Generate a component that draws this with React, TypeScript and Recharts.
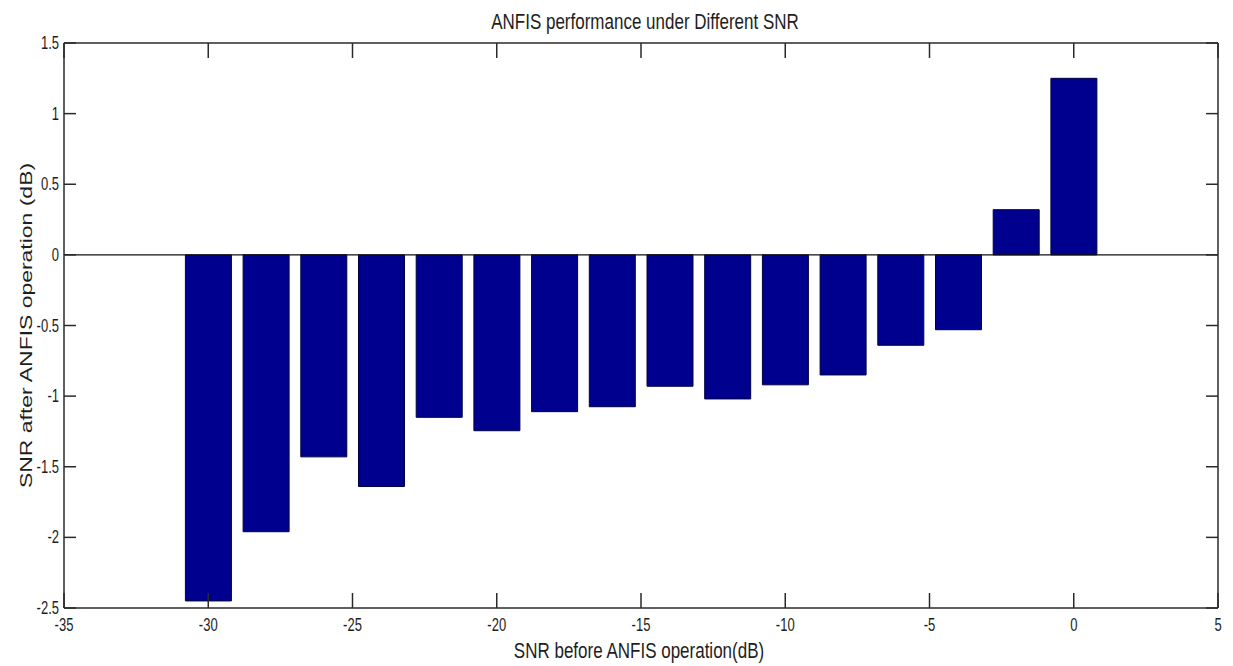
import React from 'react';
import { BarChart, Bar, XAxis, YAxis, ReferenceLine, Label } from 'recharts';

// SNR at the ANFIS input (dB) – one bar per test level
const snrBefore = [-30, -28, -26, -24, -22, -20, -18, -16, -14, -12, -10, -8, -6, -4, -2, 0];
// SNR measured after ANFIS filtering (dB)
const snrAfter = [-2.45, -1.96, -1.43, -1.64, -1.15, -1.245, -1.11, -1.075, -0.93, -1.02, -0.92, -0.85, -0.64, -0.53, 0.32, 1.25];

const xTicks = [-35, -30, -25, -20, -15, -10, -5, 0, 5];
const yTicks = [-2.5, -2, -1.5, -1, -0.5, 0, 0.5, 1, 1.5];

const titleText = 'ANFIS performance under Different SNR';
const xTitle = 'SNR before ANFIS operation(dB)';
const yTitle = 'SNR after ANFIS operation (dB)';

const data = snrBefore.map((x, i) => ({ snrIn: x, snrOut: snrAfter[i] }));

const FONT = "'Liberation Sans', Arial, Helvetica, sans-serif";
const INK = '#1e1e1e';
const AXIS = '#2a2a2a';
const STRETCH = 1.35; // tall, narrow glyph look
const TICK_FS = 13;
const LABEL_FS = 17;
const X_TICK_LEN = 15;
const Y_TICK_LEN = 12;

const BottomTick = (props: any) => {
  const { x, y, payload } = props;
  return (
    <g>
      <path d={`M${x},${y}V${y - X_TICK_LEN}`} stroke={AXIS} strokeWidth={1.5} fill="none" />
      <text
        transform={`translate(${x},${y + 23}) scale(1,${STRETCH})`}
        textAnchor="middle"
        fontFamily={FONT}
        fontSize={TICK_FS}
        fill={INK}
      >
        {payload.value}
      </text>
    </g>
  );
};

const TopTick = (props: any) => {
  const { x, y } = props;
  return <path d={`M${x},${y}V${y + X_TICK_LEN}`} stroke={AXIS} strokeWidth={1.5} fill="none" />;
};

const LeftTick = (props: any) => {
  const { x, y, payload } = props;
  return (
    <g>
      <path d={`M${x},${y}H${x + Y_TICK_LEN}`} stroke={AXIS} strokeWidth={1.5} fill="none" />
      <text
        transform={`translate(${x - 5},${y + 6}) scale(1,${STRETCH})`}
        textAnchor="end"
        fontFamily={FONT}
        fontSize={TICK_FS}
        fill={INK}
      >
        {payload.value}
      </text>
    </g>
  );
};

const RightTick = (props: any) => {
  const { x, y } = props;
  return <path d={`M${x},${y}H${x - Y_TICK_LEN}`} stroke={AXIS} strokeWidth={1.5} fill="none" />;
};

const renderXTitle = (props: any) => {
  const vb = props.viewBox || {};
  const cx = vb.x + vb.width / 2;
  return (
    <text
      transform={`translate(${cx - 2},${vb.y + 50}) scale(1,${STRETCH})`}
      textAnchor="middle"
      fontFamily={FONT}
      fontSize={LABEL_FS}
      fill={INK}
    >
      {xTitle}
    </text>
  );
};

const renderTitle = (props: any) => {
  const vb = props.viewBox || {};
  const cx = vb.x + vb.width / 2;
  return (
    <text
      transform={`translate(${cx + 4},${vb.y + vb.height - 14}) scale(1,${STRETCH})`}
      textAnchor="middle"
      fontFamily={FONT}
      fontSize={LABEL_FS}
      fill={INK}
    >
      {titleText}
    </text>
  );
};

const renderYTitle = (props: any) => {
  const vb = props.viewBox || {};
  const cy = vb.y + vb.height / 2;
  return (
    <text
      transform={`translate(${vb.x + vb.width - 32},${cy}) rotate(-90) scale(${STRETCH},1)`}
      textAnchor="middle"
      fontFamily={FONT}
      fontSize={LABEL_FS}
      fill={INK}
    >
      {yTitle}
    </text>
  );
};

export default function App() {
  return (
    <div style={{ position: 'absolute', left: 0, top: 0, width: 1233, height: 666, background: '#fff' }}>
      <BarChart
        width={1233}
        height={666}
        data={data}
        margin={{ top: 42, right: 14, bottom: 57, left: 63 }}
      >
        <XAxis
          dataKey="snrIn"
          type="number"
          domain={[-35, 5]}
          ticks={xTicks}
          allowDataOverflow
          height={1}
          tickSize={0}
          tickMargin={0}
          tickLine={false}
          tick={(p: any) => <BottomTick {...p} />}
          axisLine={{ stroke: AXIS, strokeWidth: 1.5 }}
          interval={0}
        >
          <Label content={renderXTitle} />
        </XAxis>
        <XAxis
          xAxisId="top"
          orientation="top"
          dataKey="snrIn"
          type="number"
          domain={[-35, 5]}
          ticks={xTicks}
          allowDataOverflow
          height={1}
          tickSize={0}
          tickMargin={0}
          tickLine={false}
          tick={(p: any) => <TopTick {...p} />}
          axisLine={{ stroke: AXIS, strokeWidth: 1.5 }}
          interval={0}
        >
          <Label content={renderTitle} />
        </XAxis>
        <YAxis
          type="number"
          domain={[-2.5, 1.5]}
          ticks={yTicks}
          allowDataOverflow
          width={1}
          tickSize={0}
          tickMargin={0}
          tickLine={false}
          tick={(p: any) => <LeftTick {...p} />}
          axisLine={{ stroke: AXIS, strokeWidth: 1.5 }}
          interval={0}
        >
          <Label content={renderYTitle} />
        </YAxis>
        <YAxis
          yAxisId="right"
          orientation="right"
          type="number"
          domain={[-2.5, 1.5]}
          ticks={yTicks}
          allowDataOverflow
          width={1}
          tickSize={0}
          tickMargin={0}
          tickLine={false}
          tick={(p: any) => <RightTick {...p} />}
          axisLine={{ stroke: AXIS, strokeWidth: 1.5 }}
          interval={0}
        />
        <Bar
          dataKey="snrOut"
          fill="#00008f"
          stroke="#000040"
          strokeWidth={1}
          barSize={46}
          isAnimationActive={false}
        />
        <ReferenceLine y={0} stroke="#111" strokeWidth={1.2} ifOverflow="extendDomain" />
      </BarChart>
    </div>
  );
}
